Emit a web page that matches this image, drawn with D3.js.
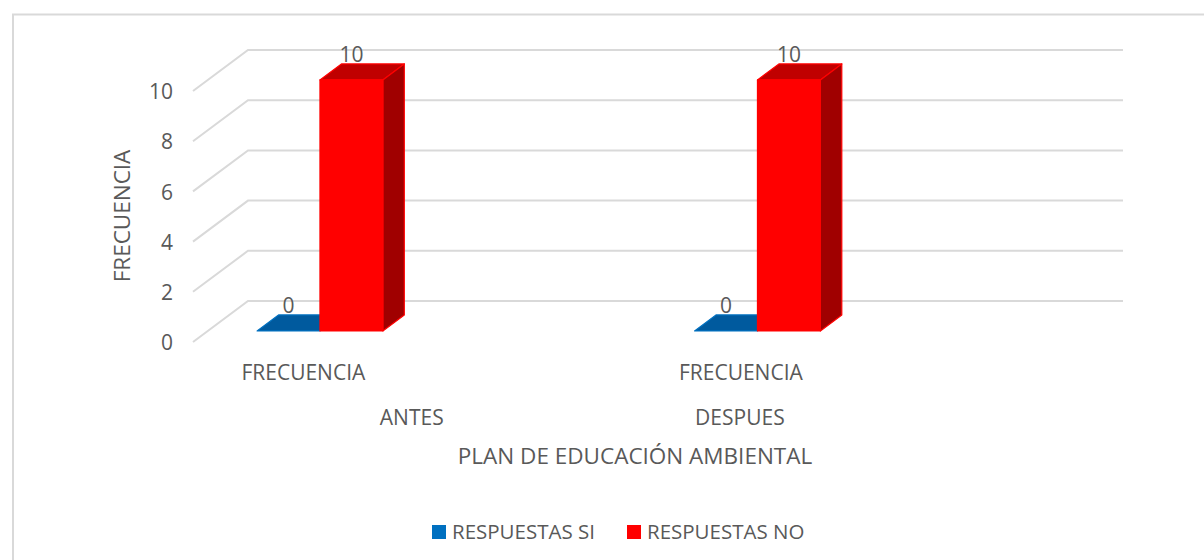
<!DOCTYPE html>
<html lang="es">
<head>
<meta charset="UTF-8">
<title>Plan de educación ambiental</title>
<script src="https://cdn.jsdelivr.net/npm/d3@7"></script>
<style>
    body { margin: 0; background: #fff; }
    text { font-family: "Open Sans", sans-serif; fill: #595959; }
</style>
</head>
<body>
<script>
    // data
    var categories = ["FRECUENCIA", "", "FRECUENCIA", ""];
    var categoryGroups = ["ANTES", "ANTES", "DESPUES", ""];
    var seriesNames = ["RESPUESTAS SI", "RESPUESTAS NO"];
    var siValues = [0, null, 0, null];
    var noValues = [10, null, 10, null];
    var yTicks = [0, 2, 4, 6, 8, 10];
    var seriesColors = ["#0070C0", "#FF0000"];
    var topColors = ["#005A9E", "#C00000"];
    var sideColors = ["#004A82", "#A00000"];

    var W = 1204, H = 560;
    var depthX = 55, depthY = -41;      // full depth of the 3d box
    var barD0 = 0.27, barD1 = 0.66;     // bars sit inside this depth range

    var svg = d3.select("body").append("svg")
        .attr("width", W).attr("height", H);

    svg.append("rect")
        .attr("x", 13).attr("y", 14.5)
        .attr("width", 1220).attr("height", 600)
        .attr("fill", "none").attr("stroke", "#d9d9d9").attr("stroke-width", 2);

    var x = d3.scaleBand().domain(d3.range(categories.length)).range([193, 1068]);
    var xs = d3.scaleBand().domain(d3.range(seriesNames.length))
        .range([x.bandwidth() * 0.225, x.bandwidth() * 0.80]);
    var y = d3.scaleLinear().domain([0, 10]).range([342, 91]);

    function proj(px, v, d) {
        return [px + d * depthX, y(v) + d * depthY];
    }

    // back wall + side wall grid
    var grid = svg.append("g").attr("stroke", "#d9d9d9").attr("stroke-width", 2).attr("fill", "none");
    yTicks.forEach(function (t) {
        var a = proj(x.range()[0], t, 0), b = proj(x.range()[0], t, 1), c = proj(x.range()[1], t, 1);
        grid.append("polyline").attr("points", [a, b, c].map(function (p) { return p.join(","); }).join(" "));
    });

    // y axis labels
    var yAxis = d3.axisLeft(y).tickValues(yTicks).tickSize(0).tickPadding(0);
    var ya = svg.append("g").attr("transform", "translate(173,1)").call(yAxis);
    ya.select(".domain").remove();
    ya.selectAll("text").style("font-size", "21px").attr("fill", "#595959").style("font-family", "'Open Sans', sans-serif");

    // bars
    var series = [siValues, noValues];
    function face(pts) { return pts.map(function (p) { return p.join(","); }).join(" "); }

    categories.forEach(function (c, ci) {
        series.forEach(function (vals, si) {
            var v = vals[ci];
            if (v === null) return;
            var x0 = x(ci) + xs(si), x1 = x0 + xs.bandwidth();
            var g = svg.append("g").attr("stroke", seriesColors[si]).attr("stroke-width", 1.2)
                .attr("stroke-linejoin", "round");
            // top
            g.append("polygon").attr("fill", topColors[si]).attr("points", face([
                proj(x0, v, barD0), proj(x1, v, barD0), proj(x1, v, barD1), proj(x0, v, barD1)]));
            if (v > 0) {
                // right side
                g.append("polygon").attr("fill", sideColors[si]).attr("points", face([
                    proj(x1, 0, barD0), proj(x1, v, barD0), proj(x1, v, barD1), proj(x1, 0, barD1)]));
                // front
                g.append("polygon").attr("fill", seriesColors[si]).attr("points", face([
                    proj(x0, 0, barD0), proj(x1, 0, barD0), proj(x1, v, barD0), proj(x0, v, barD0)]));
            }
            var lp = proj((x0 + x1) / 2, v, barD0);
            svg.append("text").attr("x", lp[0]).attr("y", lp[1] - 18)
                .attr("text-anchor", "middle").style("font-size", "21px").text(v);
        });
    });

    // category labels (two levels)
    categories.forEach(function (c, ci) {
        if (!c) return;
        var p = proj(x(ci) + x.bandwidth() / 2, 0, 0);
        svg.append("text").attr("x", p[0] + 1).attr("y", 380)
            .attr("text-anchor", "middle").style("font-size", "21px").text(c);
    });
    var groupNames = [];
    categoryGroups.forEach(function (g) { if (g && groupNames.indexOf(g) < 0) groupNames.push(g); });
    groupNames.forEach(function (gn) {
        var idx = d3.range(categoryGroups.length).filter(function (i) { return categoryGroups[i] === gn; });
        var mid = (x(idx[0]) + x(idx[idx.length - 1]) + x.bandwidth()) / 2;
        svg.append("text").attr("x", mid).attr("y", 425)
            .attr("text-anchor", "middle").style("font-size", "21px").text(gn);
    });

    // axis titles
    svg.append("text").attr("x", 635).attr("y", 464).attr("text-anchor", "middle")
        .style("font-size", "22.5px").text("PLAN DE EDUCACIÓN AMBIENTAL");
    svg.append("text").attr("transform", "translate(130,216) rotate(-90)").attr("text-anchor", "middle")
        .style("font-size", "22.5px").text("FRECUENCIA");

    // legend
    var legX = [432, 627];
    seriesNames.forEach(function (s, i) {
        svg.append("rect").attr("x", legX[i]).attr("y", 525).attr("width", 14).attr("height", 14)
            .attr("fill", seriesColors[i]);
        svg.append("text").attr("x", legX[i] + 20).attr("y", 539).style("font-size", "20.5px").text(s);
    });
</script>
</body>
</html>
